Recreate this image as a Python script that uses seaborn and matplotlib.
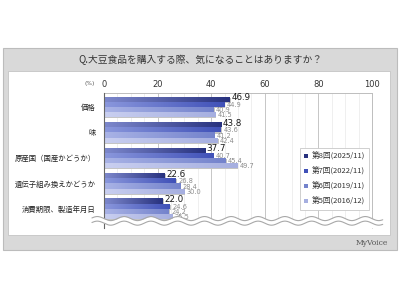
import numpy as np
import pandas as pd
import matplotlib
matplotlib.use("Agg")
import matplotlib.pyplot as plt
import matplotlib.patches as mpatches
from matplotlib.colors import LinearSegmentedColormap
import seaborn as sns

categories = ["価格", "味", "原産国（国産かどうか）", "遺伝子組み換えかどうか", "消費期限、製造年月日"]
series = ["第8回(2025/11)", "第7回(2022/11)", "第6回(2019/11)", "第5回(2016/12)"]
v8 = [46.9, 43.8, 37.7, 22.6, 22.0]
v7 = [44.9, 43.6, 40.7, 26.8, 24.6]
v6 = [40.9, 41.2, 45.4, 28.4, 24.2]
v5 = [41.5, 42.4, 49.7, 30.0, 25.5]
xticks = [0, 20, 40, 60, 80, 100]
title = "Q.大豆食品を購入する際、気になることはありますか？"

colors_dark = ["#28327f", "#4051b8", "#7483cc", "#a6afe0"]
colors_light = ["#7d88cc", "#8a97dc", "#a9b3e6", "#c9cff0"]

sns.set_theme(style="white")
plt.rcParams['font.family'] = ['Noto Sans CJK JP', 'DejaVu Sans']

rows = []
for s, vals in zip(series, [v8, v7, v6, v5]):
    for c, v in zip(categories, vals):
        rows.append({"cat": c, "series": s, "value": v})
df = pd.DataFrame(rows)

W, H = 400, 300
fig = plt.figure(figsize=(4, 3), dpi=100)
fig.patch.set_facecolor("white")

def frect(x0, y0, x1, y1, **kw):
    r = mpatches.Rectangle((x0 / W, 1 - y1 / H), (x1 - x0) / W, (y1 - y0) / H,
                           transform=fig.transFigure, **kw)
    fig.patches.append(r)

# outer gray panel and inner white panel
frect(3, 48, 397, 250, facecolor="#d9d9d9", edgecolor="#bcbcbc", linewidth=0.8, zorder=-2)
frect(8, 71, 390, 235, facecolor="white", edgecolor="#c4c4c4", linewidth=0.6, zorder=-1)
fig.text(200 / W, 1 - 60 / H, title, ha="center", va="center", fontsize=7, color="#333333")
fig.text(388 / W, 1 - 243 / H, "MyVoice", ha="right", va="center", fontsize=5.5,
         color="#555555", family=["DejaVu Serif"])

ax = fig.add_axes([104 / W, 1 - 228 / H, (372 - 104) / W, (228 - 93) / H])
ax.set_zorder(2)
ax.set_facecolor("white")

sns.barplot(data=df, x="value", y="cat", hue="series", order=categories,
            hue_order=series, orient="h", width=0.82, dodge=True,
            palette=colors_dark, legend=False, ax=ax, saturation=1, zorder=3)

ylim = (4.75, -0.55)

# gradient fill on bars
grad = np.linspace(0, 1, 64).reshape(1, -1)
bars = [p for p in ax.patches if isinstance(p, mpatches.Rectangle)]
n = len(categories)
for i, p in enumerate(bars):
    si = i // n
    x0, y0 = p.get_x(), p.get_y()
    w, h = p.get_width(), p.get_height()
    cmap = LinearSegmentedColormap.from_list("g", [colors_light[si], colors_dark[si]])
    sh = mpatches.Rectangle((x0 + 0.4, y0 + 0.04), w, h, facecolor="#c4c4c4",
                            edgecolor="none", zorder=2)
    ax.add_patch(sh)
    p.set_facecolor("none")
    p.set_edgecolor("none")
    im = ax.imshow(grad, cmap=cmap, extent=[x0, x0 + w, y0 + h, y0], aspect="auto",
                   zorder=3, interpolation="bilinear")
    im.set_clip_path(p)

ax.set_xlim(0, 100)
ax.set_ylim(*ylim)

# value labels
for si, vals in enumerate([v8, v7, v6, v5]):
    for ci, v in enumerate(vals):
        p = bars[si * n + ci]
        yc = p.get_y() + p.get_height() / 2
        if si == 0:
            ax.text(v + 0.6, yc - 0.05, f"{v:.1f}", fontsize=6.3, color="#1a1a1a",
                    va="center", ha="left", zorder=6, family=["DejaVu Sans"])
        else:
            ax.text(v + 0.9, yc + 0.02, f"{v:.1f}", fontsize=4.8, color="#8c8c8c",
                    va="center", ha="left", zorder=6, family=["DejaVu Sans"])

# grid
for x in np.arange(5, 100, 5):
    major = x % 20 == 0
    ax.axvline(x, color="#c6c6c6" if major else "#ececec", linewidth=0.7 if major else 0.6,
               zorder=1)

ax.xaxis.tick_top()
ax.set_xticks(xticks)
ax.set_xticklabels([str(t) for t in xticks], fontsize=6, color="#333333",
                   family=["DejaVu Sans"])
ax.tick_params(axis="x", length=0, pad=3)
ax.tick_params(axis="y", length=0, pad=6, labelsize=5.3, labelcolor="#222222")
ax.set_xlabel("")
ax.set_ylabel("")
for side in ["top", "right"]:
    ax.spines[side].set_color("#bdbdbd")
    ax.spines[side].set_linewidth(0.7)
ax.spines["bottom"].set_visible(False)
ax.spines["left"].set_color("#666666")
ax.spines["left"].set_linewidth(0.8)
ax.spines["left"].set_zorder(5)

fig.text(90 / W, 1 - 84 / H, "(%)", ha="center", va="center", fontsize=4.2, color="#555555",
         family=["DejaVu Sans"])

# wavy break
xs = np.linspace(-4.5, 104, 500)
wave = 0.08 * np.sin(2 * np.pi * xs / 10)
yc = 4.47
gap = 0.09
ax.fill_between(xs, yc - gap + wave, yc + gap + wave, color="white", zorder=7,
                clip_on=False, linewidth=0)
ax.plot(xs, yc - gap + wave, color="#a8a8a8", linewidth=0.8, zorder=8, clip_on=False)
ax.plot(xs, yc + gap + wave, color="#a8a8a8", linewidth=0.8, zorder=8, clip_on=False)
ax.fill_between(xs, yc + gap + wave, 4.75, color="white", zorder=4, clip_on=True,
                linewidth=0)
ax.set_xlim(0, 100)
ax.set_ylim(*ylim)

# legend
handles = [mpatches.Patch(facecolor=colors_dark[i], edgecolor="none") for i in range(4)]
leg = fig.legend(handles, series, loc="upper left",
                 bbox_to_anchor=(300 / W, 1 - 148 / H), fontsize=5.5, frameon=True,
                 framealpha=1, handlelength=0.5, handleheight=0.5, handletextpad=0.45,
                 labelspacing=0.9, borderpad=0.55, fancybox=False, borderaxespad=0)
leg.set_zorder(10)
leg.get_frame().set_edgecolor("#c8c8c8")
leg.get_frame().set_linewidth(0.6)
for t in leg.get_texts():
    t.set_color("#333333")

fig.savefig("out.png", dpi=100, facecolor="white")
